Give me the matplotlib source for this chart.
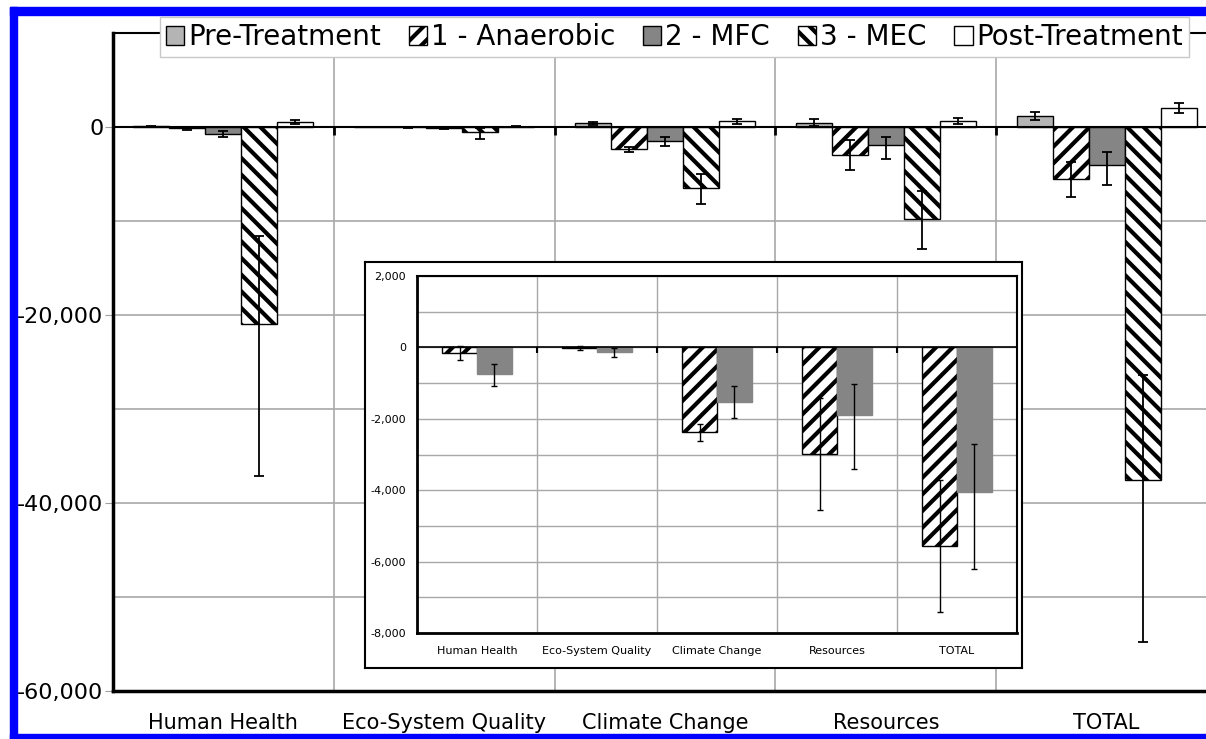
import numpy as np
import matplotlib.pyplot as plt
from matplotlib.ticker import FuncFormatter, MultipleLocator
from matplotlib.patches import Rectangle

plt.rcParams['font.family'] = ['DejaVu Sans']
plt.rcParams['hatch.linewidth'] = 3.0
plt.rcParams['axes.unicode_minus'] = False

# data
categories = ['Human Health', 'Eco-System Quality', 'Climate Change', 'Resources', 'TOTAL']
series_names = ['Pre-Treatment', '1 - Anaerobic', '2 - MFC', '3 - MEC', 'Post-Treatment']

pre = [100, 20, 380, 460, 1150]
pre_lo = [50, 10, 150, 350, 450]
pre_hi = [50, 10, 150, 350, 450]

anaer = [-150, -20, -2380, -2980, -5560]
anaer_lo = [200, 60, 230, 1570, 1850]
anaer_hi = [200, 60, 230, 1570, 1850]

mfc = [-740, -120, -1530, -1880, -4050]
mfc_lo = [340, 140, 440, 1520, 2170]
mfc_hi = [280, 100, 440, 860, 1340]

mec = [-21000, -500, -6440, -9760, -37560]
mec_lo = [16100, 800, 1730, 3190, 17250]
mec_hi = [9430, 400, 1420, 2970, 11150]

post = [560, 50, 620, 640, 2020]
post_lo = [200, 20, 250, 300, 550]
post_hi = [200, 20, 250, 300, 550]

colors = ['#b4b4b4', 'white', '#858585', 'white', 'white']
hatches = [None, '//', None, '\\\\', None]

W, H = 1206, 739
fig = plt.figure(figsize=(W / 100, H / 100), dpi=100)
fig.patch.set_facecolor('white')

# main chart
ax = fig.add_axes([113 / W, 1 - 691 / H, 1104 / W, 658 / H], zorder=0)
x = np.arange(len(categories))
w = 0.163
all_series = [(pre, pre_lo, pre_hi), (anaer, anaer_lo, anaer_hi), (mfc, mfc_lo, mfc_hi),
              (mec, mec_lo, mec_hi), (post, post_lo, post_hi)]
for k, (vals, lo, hi) in enumerate(all_series):
    ax.bar(x + (k - 2) * w, vals, w, color=colors[k], edgecolor='black', linewidth=1,
           hatch=hatches[k], yerr=[lo, hi], label=series_names[k], zorder=3,
           error_kw=dict(ecolor='black', elinewidth=1.3, capsize=3.5, capthick=1.3, zorder=4))

ax.set_xlim(-0.5, 4.5)
ax.set_ylim(-60000, 10000)
ax.yaxis.set_major_locator(MultipleLocator(20000))
ax.yaxis.set_minor_locator(MultipleLocator(10000))
ax.yaxis.set_major_formatter(FuncFormatter(lambda v, p: f'{v:,.0f}'))
ax.set_xticks(x)
ax.set_xticklabels(categories, fontsize=15)
ax.set_xticks(x[:-1] + 0.5, minor=True)
ax.tick_params(axis='x', which='both', length=0, pad=16)
ax.tick_params(axis='y', which='major', length=6, color='#a0a0a0', labelsize=16, pad=1)
ax.tick_params(axis='y', which='minor', length=0)
ax.grid(True, axis='y', which='both', color='#a8a8a8', lw=1.2)
ax.grid(True, axis='x', which='minor', color='#a8a8a8', lw=1.2)
ax.set_axisbelow(True)
ax.axhline(0, color='black', lw=1.5, zorder=4)
ax.plot(x[:-1] + 0.5, np.zeros(len(x) - 1), ls='none', marker=3, ms=6, mew=2,
        color='black', zorder=4)
for s in ['left', 'bottom']:
    ax.spines[s].set_linewidth(2.5)
for s in ['top', 'right']:
    ax.spines[s].set_linewidth(1.5)

handles, labels = ax.get_legend_handles_labels()
fig.legend(handles, labels, loc='upper left', bbox_to_anchor=(160 / W, 1 - 17 / H),
           ncol=5, fontsize=20, frameon=True, fancybox=False, edgecolor='#c8c8c8',
           framealpha=1, handlelength=0.65, handleheight=0.65, handletextpad=0.15,
           columnspacing=1.0, borderpad=0.22, borderaxespad=0)

# inset box and inset chart
box = fig.add_axes([365 / W, 1 - 668 / H, 657 / W, 406 / H], zorder=2)
box.set_xticks([])
box.set_yticks([])
for s in box.spines.values():
    s.set_linewidth(1.5)

ins = fig.add_axes([417 / W, 1 - 633 / H, 600 / W, 357 / H], zorder=3)
wi = 0.29
ins.bar(x - wi / 2, anaer, wi, color='white', edgecolor='black', linewidth=1, hatch='//',
        yerr=[anaer_lo, anaer_hi], zorder=3,
        error_kw=dict(ecolor='black', elinewidth=1, capsize=2.5, capthick=1, zorder=4))
ins.bar(x + wi / 2, mfc, wi, color='#858585', edgecolor='#858585', linewidth=1,
        yerr=[mfc_lo, mfc_hi], zorder=3,
        error_kw=dict(ecolor='black', elinewidth=1, capsize=2.5, capthick=1, zorder=4))
ins.set_xlim(-0.5, 4.5)
ins.set_ylim(-8000, 2000)
ins.yaxis.set_major_locator(MultipleLocator(2000))
ins.yaxis.set_minor_locator(MultipleLocator(1000))
ins.yaxis.set_major_formatter(FuncFormatter(lambda v, p: f'{v:,.0f}'))
ins.set_xticks(x)
ins.set_xticklabels(categories, fontsize=8)
ins.set_xticks(x[:-1] + 0.5, minor=True)
ins.tick_params(axis='x', which='both', length=0, pad=9)
ins.tick_params(axis='y', which='both', length=0, labelsize=8, pad=8)
ins.grid(True, axis='y', which='both', color='#a8a8a8', lw=1)
ins.grid(True, axis='x', which='minor', color='#a8a8a8', lw=1)
ins.set_axisbelow(True)
ins.axhline(0, color='black', lw=1.2, zorder=4)
ins.plot(x[:-1] + 0.5, np.zeros(len(x) - 1), ls='none', marker=3, ms=4, mew=1.5,
         color='black', zorder=4)
for s in ['left', 'bottom']:
    ins.spines[s].set_linewidth(2)
for s in ['top', 'right']:
    ins.spines[s].set_linewidth(1.5)

# blue frame of the picture
blue = '#0000ff'
fig.add_artist(Rectangle((10 / W, 0), 7 / W, 1 - 7 / H, transform=fig.transFigure,
                         color=blue, zorder=10))
fig.add_artist(Rectangle((10 / W, 1 - 15 / H), 1, 8 / H, transform=fig.transFigure,
                         color=blue, zorder=10))
fig.add_artist(Rectangle((10 / W, 0), 1, 5 / H, transform=fig.transFigure,
                         color=blue, zorder=10))

fig.savefig('out.png', dpi=100)
